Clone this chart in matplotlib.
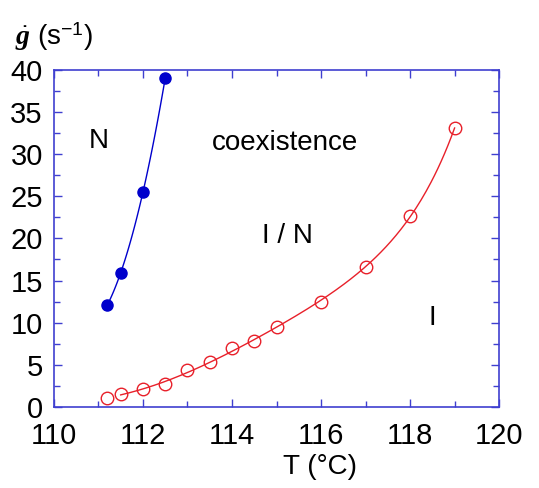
import numpy as np
import matplotlib
matplotlib.use("Agg")
import matplotlib.pyplot as plt
from matplotlib.ticker import MultipleLocator

plt.rcParams['font.family'] = ['Liberation Sans', 'DejaVu Sans']
plt.rcParams['mathtext.fontset'] = 'custom'
plt.rcParams['mathtext.rm'] = 'Liberation Sans'
plt.rcParams['mathtext.it'] = 'Liberation Serif:italic:bold'
plt.rcParams['mathtext.bf'] = 'Liberation Serif:bold'

# Nematic boundary (filled blue)
T_N = [111.2, 111.5, 112.0, 112.5]
g_N = [12.1, 15.9, 25.5, 39.0]

# Isotropic boundary (open red)
T_I = [111.2, 111.5, 112.0, 112.5, 113.0, 113.5, 114.0, 114.5, 115.0, 116.0, 117.0, 118.0, 119.0]
g_I = [1.1, 1.5, 2.1, 2.7, 4.4, 5.3, 7.0, 7.8, 9.5, 12.4, 16.6, 22.7, 33.1]

xticks = [110, 112, 114, 116, 118, 120]
yticks = [0, 5, 10, 15, 20, 25, 30, 35, 40]

blue = '#0000CC'
red = '#E8202A'
axcol = '#3F3FD0'

fig = plt.figure(figsize=(5.39, 4.88), dpi=100)
ax = fig.add_axes([0.100, 0.166, 0.826, 0.691])

# smooth guide curves fitted to the data
cN = np.polyfit(T_N, g_N, 2)
xN = np.linspace(T_N[0], T_N[-1], 100)
ax.plot(xN, np.polyval(cN, xN), color=blue, lw=1.0)
cI = np.polyfit(T_I[1:], np.log(g_I[1:]), 3)
xI = np.linspace(T_I[1], T_I[-1], 200)
ax.plot(xI, np.exp(np.polyval(cI, xI)), color=red, lw=1.0)

ax.plot(T_N, g_N, 'o', color=blue, ms=8, mec=blue)
ax.plot(T_I, g_I, 'o', mfc='none', mec=red, ms=9, mew=1.0)

ax.set_xlim(110, 120)
ax.set_ylim(0, 40)
ax.set_xticks(xticks)
ax.set_yticks(yticks)
ax.xaxis.set_minor_locator(MultipleLocator(1))
ax.yaxis.set_minor_locator(MultipleLocator(2.5))
ax.tick_params(which='both', direction='in', top=True, right=True, color=axcol,
               labelsize=21, labelcolor='black')
ax.tick_params(which='major', length=6, width=1)
ax.tick_params(which='minor', length=4, width=1)
ax.tick_params(axis='x', which='major', pad=11)
ax.tick_params(axis='y', which='major', pad=8)
for s in ax.spines.values():
    s.set_color(axcol)
    s.set_linewidth(1.2)

ax.set_xlabel('T (°C)', fontsize=20)
ax.xaxis.set_label_coords(0.598, -0.178)
ax.xaxis.label.set_va('center')
fig.text(0.028, 0.925, r'$\dot{g}$' + ' (s$^{-1}$)', fontsize=20,
         ha='left', va='center')

ax.text(111.0, 31.6, 'N', fontsize=20, ha='center', va='center')
ax.text(115.2, 31.3, 'coexistence', fontsize=20, ha='center', va='center')
ax.text(115.25, 20.3, 'I / N', fontsize=20, ha='center', va='center')
ax.text(118.5, 10.6, 'I', fontsize=20, ha='center', va='center')

fig.savefig('out.png', dpi=100)
